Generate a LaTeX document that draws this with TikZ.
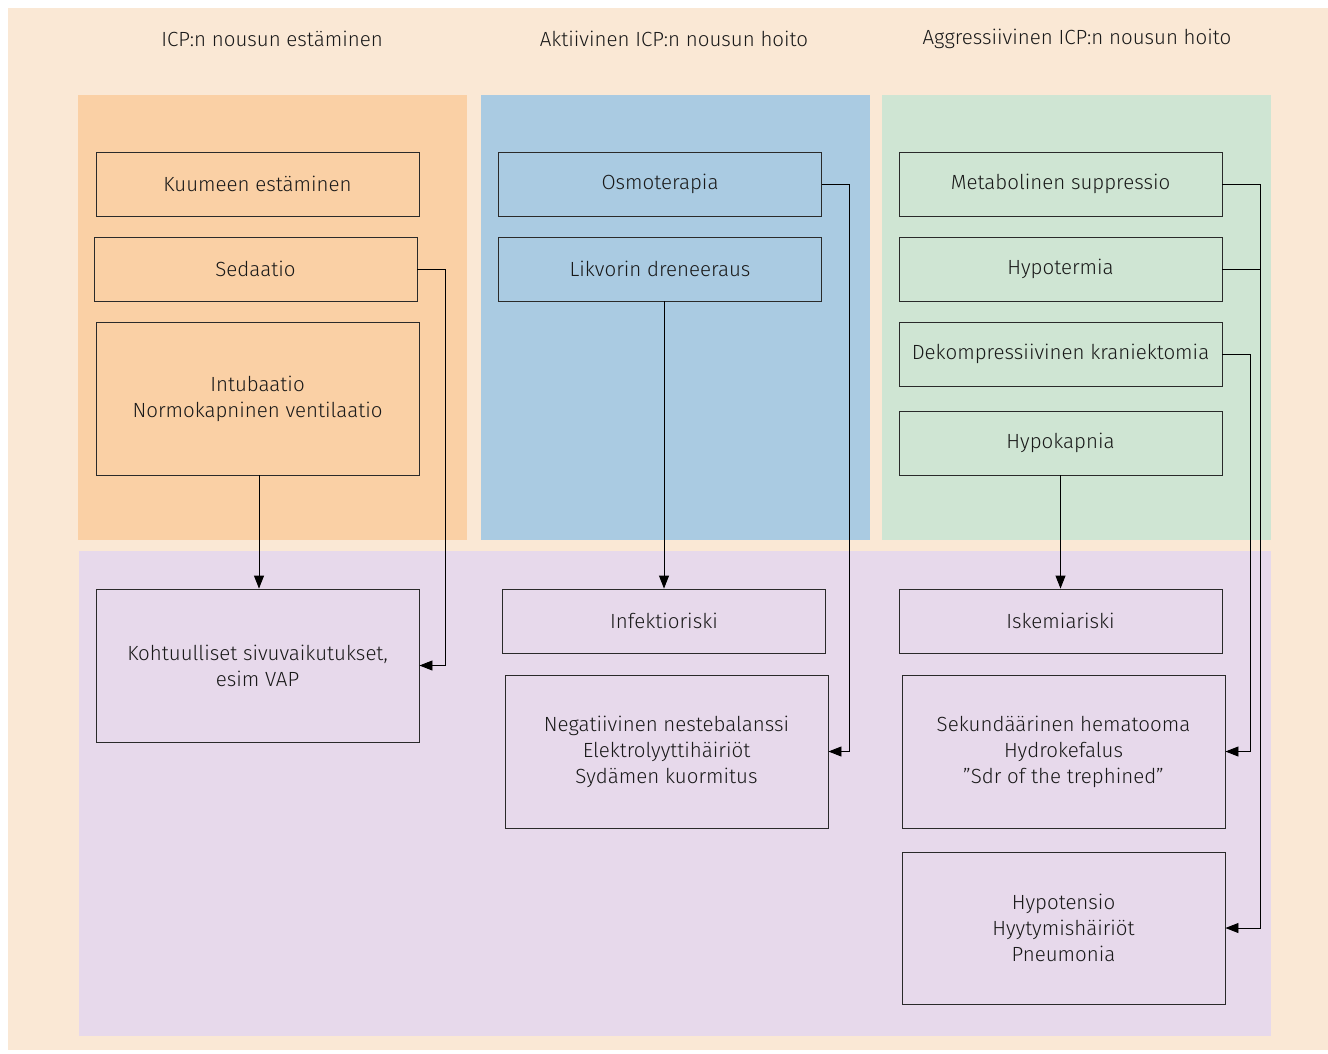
\documentclass[tikz,border=0pt]{standalone}
\usepackage{fontspec}
\setmainfont{Fira Sans Light}
\usetikzlibrary{arrows.meta,calc}
\definecolor{bgbeige}{HTML}{FAE8D5}
\definecolor{porange}{HTML}{FAD0A5}
\definecolor{pblue}{HTML}{AACBE2}
\definecolor{pgreen}{HTML}{CFE5D3}
\definecolor{ppurple}{HTML}{E7D9EB}
\definecolor{lineg}{HTML}{2A2A2A}
\tikzset{
  bx/.style={draw=lineg, line width=0.9pt, align=center, inner sep=0pt,
    font=\fontsize{20.5}{26}\selectfont, text=black!90},
  sbx/.style={bx, minimum width=323pt, minimum height=64pt},
  tbx/.style={bx, minimum width=323pt, minimum height=153pt},
  conn/.style={draw=black, line width=0.9pt},
  arr/.style={conn, -{Triangle[length=13pt,width=10pt]}},
  ttl/.style={font=\fontsize{20.5}{24}\selectfont, text=black!90},
}
\begin{document}
\begin{tikzpicture}[x=1pt,y=-1pt]
\useasboundingbox (0,0) rectangle (1328,1053);
\fill[white] (0,0) rectangle (1328,1053);
\fill[bgbeige] (8,8) rectangle (1328,1050);
\fill[porange] (78,95) rectangle (467,540);
\fill[pblue] (481,95) rectangle (870,540);
\fill[pgreen] (882,95) rectangle (1271,540);
\fill[ppurple] (79,551) rectangle (1271,1036);

\node[ttl] (t1) at (272,39) {ICP:n nousun estäminen};
\node[ttl] (t2) at (674,39) {Aktiivinen ICP:n nousun hoito};
\node[ttl] (t3) at (1077,39) {Aggressiivinen ICP:n nousun hoito};

\node[sbx] (kuu) at (257.5,184) {Kuumeen estäminen};
\node[sbx] (sed) at (255.5,269) {Sedaatio};
\node[tbx] (int) at (257.5,398.5) {Intubaatio\\Normokapninen ventilaatio};
\node[tbx] (koh) at (257.5,665.5) {Kohtuulliset sivuvaikutukset,\\esim VAP};

\node[sbx] (osm) at (660,184) {Osmoterapia};
\node[sbx] (lik) at (660,269) {Likvorin dreneeraus};
\node[sbx] (inf) at (664,621) {Infektioriski};
\node[tbx] (neg) at (666.5,751.5) {Negatiivinen nestebalanssi\\Elektrolyyttihäiriöt\\Sydämen kuormitus};

\node[sbx] (met) at (1060.5,184) {Metabolinen suppressio};
\node[sbx] (hyt) at (1060.5,269) {Hypotermia};
\node[sbx] (dek) at (1060.5,354) {Dekompressiivinen kraniektomia};
\node[sbx] (hyk) at (1060.5,443) {Hypokapnia};
\node[sbx] (isk) at (1060.5,621) {Iskemiariski};
\node[tbx] (sek) at (1063.5,751.5) {Sekundäärinen hematooma\\Hydrokefalus\\”Sdr of the trephined”};
\node[tbx, minimum height=152pt] (hyp) at (1063.5,928) {Hypotensio\\Hyytymishäiriöt\\Pneumonia};

\draw[arr] (int.south -| 259,0) -- (koh.north -| 259,0);
\draw[arr] (sed.east) -- ++(28,0) |- (koh.east);
\draw[arr] (inf.north |- lik.south) -- (inf.north);
\draw[arr] (osm.east) -- ++(27,0) |- (neg.east);
\draw[arr] (met.east) -- ++(38,0) |- (hyp.east);
\draw[conn] (hyt.east) -- ++(38,0);
\draw[arr] (dek.east) -- ++(28,0) |- (sek.east);
\draw[arr] (hyk.south) -- (isk.north);
\end{tikzpicture}
\end{document}
